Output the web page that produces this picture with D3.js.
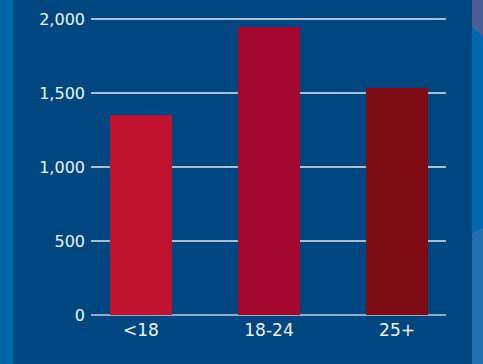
<!DOCTYPE html>
<html lang="en">
<head>
    <meta charset="UTF-8">
    <title>Bar chart</title>
    <style>
        html, body {
            margin: 0;
            padding: 0;
            background: #004680;
        }
        svg text {
            font-family: "DejaVu Sans", Arial, sans-serif;
            fill: #eef3f8;
        }
    </style>
</head>
<body>
    <svg width="483" height="364"></svg>

    <script src="https://d3js.org/d3.v7.min.js"></script>
    <script>
        // data
        const categories = ["<18", "18-24", "25+"];
        const values = [1350, 1945, 1535];
        const barColors = ["#c0132f", "#a5082f", "#7e0c14"];
        const yTicks = [0, 500, 1000, 1500, 2000];

        const width = 483;
        const height = 364;

        const svg = d3.select("svg")
            .attr("width", width)
            .attr("height", height);

        // background
        svg.append("rect")
            .attr("width", width).attr("height", height)
            .attr("fill", "#004680");
        svg.append("rect")
            .attr("x", 0).attr("y", 0).attr("width", 13).attr("height", height)
            .attr("fill", "#0066aa");
        svg.append("rect")
            .attr("x", 472).attr("y", 0).attr("width", 11).attr("height", height)
            .attr("fill", "#0068b0");
        svg.append("polygon")
            .attr("points", "472,0 483,0 483,36 472,27")
            .attr("fill", "#4b5f96");
        svg.append("polygon")
            .attr("points", "472,233 483,228 483,364 472,364")
            .attr("fill", "#2370b0");

        // scales
        const y = d3.scaleLinear()
            .domain([0, 2000])
            .range([315, 19]);

        const x = d3.scaleBand()
            .domain(categories)
            .range([110, 428])
            .paddingInner(0.516)
            .paddingOuter(0);

        // grid lines
        svg.append("g")
            .selectAll("line")
            .data(yTicks)
            .enter().append("line")
            .attr("x1", 91)
            .attr("x2", 446)
            .attr("y1", d => y(d))
            .attr("y2", d => y(d))
            .attr("stroke", d => d === 0 ? "#8eaccb" : "#dfe8f2")
            .attr("stroke-width", d => d === 0 ? 2 : 1.5);

        // y tick labels
        svg.append("g")
            .selectAll("text")
            .data(yTicks)
            .enter().append("text")
            .attr("x", 85)
            .attr("y", d => y(d))
            .attr("dy", "0.36em")
            .attr("text-anchor", "end")
            .attr("font-size", 16)
            .text(d => d3.format(",")(d));

        // bars
        svg.append("g")
            .selectAll("rect")
            .data(values)
            .enter().append("rect")
            .attr("x", (d, i) => x(categories[i]))
            .attr("width", x.bandwidth())
            .attr("y", d => y(d))
            .attr("height", d => y(0) - y(d))
            .attr("fill", (d, i) => barColors[i]);

        // x labels
        svg.append("g")
            .selectAll("text")
            .data(categories)
            .enter().append("text")
            .attr("x", d => x(d) + x.bandwidth() / 2)
            .attr("y", 330)
            .attr("dy", "0.36em")
            .attr("text-anchor", "middle")
            .attr("font-size", 17)
            .text(d => d);
    </script>
</body>
</html>
